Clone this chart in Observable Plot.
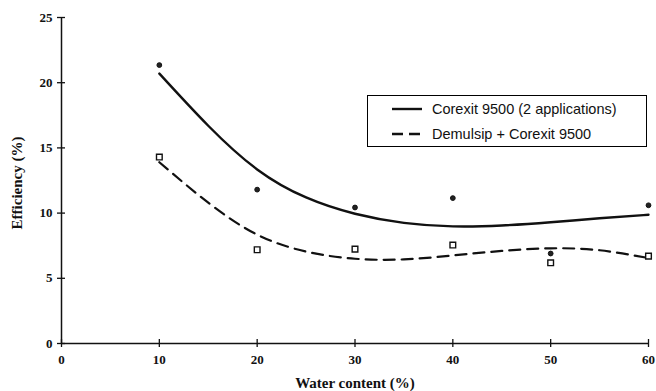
<!DOCTYPE html>
<html><head><meta charset="utf-8">
<script src="https://cdn.jsdelivr.net/npm/d3@7"></script>
<script src="https://cdn.jsdelivr.net/npm/@observablehq/plot@0.6"></script>
<style>
body{margin:0;background:#fff}
#wrap{position:relative;width:656px;height:391px;overflow:hidden}
#legend{position:absolute;left:367px;top:95px;width:280px;height:52px;border:1.5px solid #000;box-sizing:border-box;background:#fff;font-family:"Liberation Sans",Arial,sans-serif;font-size:14.5px;color:#111}
#legend .row{position:absolute;left:24px;display:flex;align-items:center;height:18px}
#legend svg{margin-right:10px}
</style></head><body><div id="wrap"></div>
<script>
const waterContent = [10, 20, 30, 40, 50, 60];
const corexitTwo = [21.35, 11.8, 10.43, 11.15, 6.9, 10.6];
const demulsipCorexit = [14.3, 7.19, 7.24, 7.55, 6.19, 6.7];
const curveX = [10, 15, 20, 25, 30, 35, 40, 45, 50, 55, 60];
const corexitFit = [20.7, 16.7, 13.35, 11.2, 9.95, 9.25, 8.98, 9.05, 9.3, 9.6, 9.87];
const demulsipFit = [13.9, 10.8, 8.35, 7.05, 6.5, 6.45, 6.75, 7.1, 7.3, 7.15, 6.55];
const xTicks = [0, 10, 20, 30, 40, 50, 60];
const yTicks = [0, 5, 10, 15, 20, 25];
const seriesNames = ["Corexit 9500 (2 applications)", "Demulsip + Corexit 9500"];

const pts1 = waterContent.map((x, i) => ({x, y: corexitTwo[i]}));
const pts2 = waterContent.map((x, i) => ({x, y: demulsipCorexit[i]}));
const fit1 = curveX.map((x, i) => ({x, y: corexitFit[i]}));
const fit2 = curveX.map((x, i) => ({x, y: demulsipFit[i]}));

const serif = "'Liberation Serif','Times New Roman',serif";

const chart = Plot.plot({
  width: 656,
  height: 391,
  marginLeft: 61,
  marginRight: 8,
  marginTop: 17,
  marginBottom: 48,
  style: {fontFamily: serif, fontWeight: "bold", fontSize: "13px", color: "#111", background: "#fff"},
  x: {domain: [0, 60]},
  y: {domain: [0, 25]},
  marks: [
    Plot.ruleX([0], {stroke: "#111", strokeWidth: 1.5}),
    Plot.ruleY([0], {stroke: "#111", strokeWidth: 1.5}),
    Plot.axisX({ticks: xTicks, tickSize: 4, tickPadding: 7, stroke: "#111", strokeWidth: 1.3, fontSize: 13, fontWeight: "bold", label: null}),
    Plot.axisX({ticks: xTicks, tickSize: -4, stroke: "#111", strokeWidth: 1.3, fill: "none", tickFormat: () => "", label: null}),
    Plot.axisY({ticks: yTicks, tickSize: 4, tickPadding: 5, stroke: "#111", strokeWidth: 1.3, fontSize: 13, fontWeight: "bold", label: null}),
    Plot.axisY({ticks: yTicks, tickSize: -4, stroke: "#111", strokeWidth: 1.3, fill: "none", tickFormat: () => "", label: null}),
    Plot.line(fit1, {x: "x", y: "y", curve: "natural", stroke: "#111", strokeWidth: 2.4}),
    Plot.line(fit2, {x: "x", y: "y", curve: "natural", stroke: "#111", strokeWidth: 2.2, strokeDasharray: "11,7"}),
    Plot.dot(pts1, {x: "x", y: "y", r: 2.4, fill: "#222", stroke: "#111", strokeWidth: 1}),
    Plot.dot(pts2, {x: "x", y: "y", r: 3.2, symbol: "square", fill: "#fff", stroke: "#111", strokeWidth: 1.4})
  ]
});

const wrap = document.getElementById("wrap");
wrap.appendChild(chart);

// axis titles
const svg = d3.select(chart);
svg.append("text").attr("x", 355).attr("y", 388)
  .attr("text-anchor", "middle").attr("font-family", serif).attr("font-weight", "bold")
  .attr("font-size", 15).attr("fill", "#111").text("Water content (%)");
svg.append("text").attr("transform", "translate(22,183) rotate(-90)")
  .attr("text-anchor", "middle").attr("font-family", serif).attr("font-weight", "bold")
  .attr("font-size", 15).attr("fill", "#111").text("Efficiency (%)");

// legend
const legend = document.createElement("div");
legend.id = "legend";
const dashes = ["", "11,6"];
seriesNames.forEach((name, i) => {
  const row = document.createElement("div");
  row.className = "row";
  row.style.top = (i === 0 ? 4 : 29) + "px";
  row.innerHTML = `<svg width="30" height="6"><line x1="0" y1="3" x2="30" y2="3" stroke="#111" stroke-width="2.4" ${dashes[i] ? `stroke-dasharray="${dashes[i]}"` : ""}/></svg><span>${name}</span>`;
  legend.appendChild(row);
});
wrap.appendChild(legend);
</script>
</body></html>
